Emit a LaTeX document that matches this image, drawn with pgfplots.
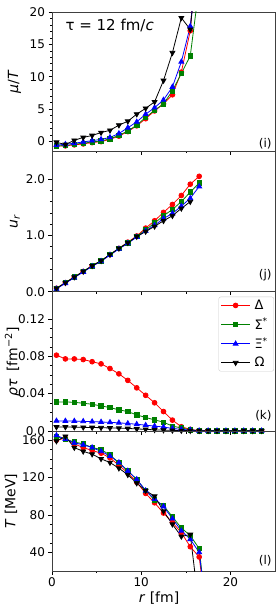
\documentclass[border=0pt]{standalone}
\usepackage{pgfplots}
\pgfplotsset{compat=1.18}
\usepackage{fontspec}
\setmainfont{DejaVu Sans}
\definecolor{mred}{HTML}{FF0000}
\definecolor{mgreen}{HTML}{008000}
\definecolor{mblue}{HTML}{0000FF}
\begin{document}
\begin{tikzpicture}
\useasboundingbox (-52pt,-457pt) rectangle (225pt,151pt);
\pgfplotsset{
  panel/.style={
    scale only axis, width=223pt,
    xmin=0, xmax=25,
    xtick={0,10,20}, minor xtick={5,15},
    tick align=outside, xtick pos=lower, ytick pos=left,
    major tick length=3.5pt, minor tick length=2pt,
    /pgf/number format/assume math mode=true,
    tick label style={font=\fontsize{12}{14}\selectfont},
    label style={font=\fontsize{14}{16}\selectfont},
    axis line style={line width=0.6pt, black!75},
    every tick/.style={black, line width=0.5pt},
    anchor=south west,
  },
  sred/.style={color=mred, line width=0.8pt, mark=*, mark size=2.4pt, mark options={solid, fill=mred}},
  sgreen/.style={color=mgreen, line width=0.8pt, mark=square*, mark size=2.2pt, mark options={solid, fill=mgreen}},
  sblue/.style={color=mblue, line width=0.8pt, mark=triangle*, mark size=2.8pt, mark options={solid, fill=mblue}},
  sblack/.style={color=black, line width=0.8pt, mark=triangle*, mark size=2.8pt, mark options={solid, fill=black, rotate=180}},
}
% ---------- (i)
\begin{axis}[panel, at={(0pt,0pt)}, height=139pt,
  ymin=-1.5, ymax=20, ytick={0,5,10,15,20}, minor y tick num=4,
  xticklabels={},
  ylabel={\textit{μ}/\textit{T}},
  ylabel style={at={(axis description cs:-0.168,0.5)}, anchor=center},
]
\addplot[sred] coordinates {(0.5,-0.75)(1.5,-0.7)(2.5,-0.55)(3.5,-0.4)(4.5,-0.2)(5.5,-0.05)(6.5,0.3)(7.5,0.8)(8.5,1.5)(9.5,2.4)(10.5,3.5)(11.5,4.7)(12.5,5.8)(13.5,7.2)(14.5,10.7)(15.5,17.1)(16.5,35)};
\addplot[sgreen] coordinates {(0.5,-0.7)(1.5,-0.65)(2.5,-0.45)(3.5,-0.3)(4.5,-0.1)(5.5,0.05)(6.5,0.4)(7.5,0.9)(8.5,1.6)(9.5,2.5)(10.5,3.7)(11.5,4.8)(12.5,5.8)(13.5,7.8)(14.5,10.5)(15.5,13.2)(16.5,24)};
\addplot[sblue] coordinates {(0.5,-0.6)(1.5,-0.45)(2.5,-0.3)(3.5,-0.1)(4.5,0.1)(5.5,0.3)(6.5,0.6)(7.5,1.2)(8.5,2.1)(9.5,3.0)(10.5,4.2)(11.5,5.2)(12.5,6.4)(13.5,8.4)(14.5,12.3)(15.5,17.8)(16.5,30)};
\addplot[sblack] coordinates {(0.5,-0.15)(1.5,-0.5)(2.5,0.15)(3.5,0.6)(4.5,0.9)(5.5,1.35)(6.5,1.7)(7.5,2.5)(8.5,3.1)(9.5,4.2)(10.5,5.1)(11.5,6.1)(12.5,9.4)(13.5,13.7)(14.5,19.1)(15.5,17.3)(16.5,31)};
\node[anchor=base west, font=\fontsize{15}{17}\selectfont] at (rel axis cs:0.045,0.87) {τ = 12 fm/\textit{c}};
\node[anchor=south east, font=\fontsize{12}{14}\selectfont, inner sep=1pt] at (rel axis cs:0.99,0.005) {(i)};
\end{axis}
% ---------- (j)
\begin{axis}[panel, at={(0pt,-140.7pt)}, height=140.7pt,
  ymin=0, ymax=2.5, ytick={0,1,2}, minor y tick num=4,
  yticklabels={0.0,1.0,2.0},
  xticklabels={},
  ylabel={\textit{u}\textsubscript{\textit{r}}},
  ylabel style={at={(axis description cs:-0.166,0.5)}, anchor=center},
]
\addplot[sred] coordinates {(0.5,0.06)(1.5,0.16)(2.5,0.26)(3.5,0.36)(4.5,0.46)(5.5,0.55)(6.5,0.66)(7.5,0.77)(8.5,0.88)(9.5,0.99)(10.5,1.13)(11.5,1.26)(12.5,1.41)(13.5,1.55)(14.5,1.71)(15.5,1.91)(16.5,2.05)};
\addplot[sgreen] coordinates {(0.5,0.06)(1.5,0.16)(2.5,0.26)(3.5,0.36)(4.5,0.46)(5.5,0.55)(6.5,0.66)(7.5,0.77)(8.5,0.87)(9.5,0.98)(10.5,1.10)(11.5,1.22)(12.5,1.35)(13.5,1.46)(14.5,1.60)(15.5,1.77)(16.5,1.93)};
\addplot[sblue] coordinates {(0.5,0.05)(1.5,0.15)(2.5,0.25)(3.5,0.35)(4.5,0.45)(5.5,0.54)(6.5,0.65)(7.5,0.76)(8.5,0.86)(9.5,0.97)(10.5,1.08)(11.5,1.18)(12.5,1.30)(13.5,1.39)(14.5,1.52)(15.5,1.66)(16.5,1.87)};
\addplot[sblack] coordinates {(0.5,0.06)(1.5,0.16)(2.5,0.26)(3.5,0.36)(4.5,0.46)(5.5,0.55)(6.5,0.66)(7.5,0.77)(8.5,0.87)(9.5,0.98)(10.5,1.07)(11.5,1.16)(12.5,1.26)(13.5,1.35)(14.5,1.48)(15.5,1.60)};
\node[anchor=south east, font=\fontsize{12}{14}\selectfont, inner sep=1pt] at (rel axis cs:0.99,0.065) {(j)};
\end{axis}
% ---------- (k)
\begin{axis}[panel, at={(0pt,-280.7pt)}, height=140pt,
  ymin=-0.001, ymax=0.149, ytick={0,0.04,0.08,0.12}, minor y tick num=3,
  yticklabels={0.0,0.04,0.08,0.12},
  xticklabels={},
  ylabel={\textit{ρτ}\enspace[fm\textsuperscript{−2}]},
  ylabel style={at={(axis description cs:-0.177,0.5)}, anchor=center},
  legend cell align=left,
  legend image code/.code={\draw[mark repeat=2, mark phase=2, #1] plot coordinates {(0pt,0pt) (14.5pt,0pt) (29pt,0pt)};},
  legend style={at={(axis description cs:0.9955,0.964)}, anchor=north east,
    draw=black!20, rounded corners=2pt, fill=white,
    font=\fontsize{13}{15}\selectfont, inner xsep=2pt, inner ysep=1pt, row sep=3pt,
    nodes={inner xsep=4pt}},
]
\addplot[sred] coordinates {(0.5,0.081)(1.5,0.077)(2.5,0.077)(3.5,0.0763)(4.5,0.074)(5.5,0.0717)(6.5,0.0667)(7.5,0.061)(8.5,0.054)(9.5,0.046)(10.5,0.038)(11.5,0.030)(12.5,0.0206)(13.5,0.0114)(14.5,0.0043)(15.5,0.0015)(16.5,0)(17.5,0)(18.5,0)(19.5,0)(20.5,0)(21.5,0)(22.5,0)(23.5,0)};
\addlegendentry{Δ}
\addplot[sgreen] coordinates {(0.5,0.0309)(1.5,0.0309)(2.5,0.0305)(3.5,0.0295)(4.5,0.0284)(5.5,0.0266)(6.5,0.0249)(7.5,0.0224)(8.5,0.0206)(9.5,0.017)(10.5,0.0142)(11.5,0.0117)(12.5,0.0092)(13.5,0.005)(14.5,0.003)(15.5,0.001)(16.5,0)(17.5,0)(18.5,0)(19.5,0)(20.5,0)(21.5,0)(22.5,0)(23.5,0)};
\addlegendentry{Σ\textsuperscript{*}}
\addplot[sblue] coordinates {(0.5,0.0106)(1.5,0.0105)(2.5,0.0104)(3.5,0.0101)(4.5,0.0098)(5.5,0.0094)(6.5,0.009)(7.5,0.0085)(8.5,0.0078)(9.5,0.007)(10.5,0.006)(11.5,0.005)(12.5,0.004)(13.5,0.0025)(14.5,0.0015)(15.5,0.0008)(16.5,0)(17.5,0)(18.5,0)(19.5,0)(20.5,0)(21.5,0)(22.5,0)(23.5,0)};
\addlegendentry{Ξ\textsuperscript{*}}
\addplot[sblack] coordinates {(0.5,0.004)(1.5,0.004)(2.5,0.0039)(3.5,0.0037)(4.5,0.0035)(5.5,0.0033)(6.5,0.003)(7.5,0.0028)(8.5,0.0025)(9.5,0.002)(10.5,0.0015)(11.5,0.001)(12.5,0.0007)(13.5,0.0004)(14.5,0.0002)(15.5,0.0001)(16.5,0)(17.5,0)(18.5,0)(19.5,0)(20.5,0)(21.5,0)(22.5,0)(23.5,0)};
\addlegendentry{Ω}
\node[anchor=south east, font=\fontsize{12}{14}\selectfont, inner sep=1pt] at (rel axis cs:0.99,0.065) {(k)};
\end{axis}
% ---------- (l)
\begin{axis}[panel, at={(0pt,-420pt)}, height=139.3pt,
  ymin=20, ymax=169, ytick={40,80,120,160}, minor y tick num=3,
  xticklabels={0,10,20},
  xlabel={\textit{r} [fm]},
  xlabel style={at={(axis description cs:0.48,-0.195)}, anchor=center},
  ylabel={\textit{T} [MeV]},
  ylabel style={at={(axis description cs:-0.184,0.5)}, anchor=center},
]
\addplot[sred] coordinates {(0.5,160)(1.5,162)(2.5,156)(3.5,152)(4.5,149)(5.5,146)(6.5,141)(7.5,133)(8.5,125)(9.5,115)(10.5,103)(11.5,93)(12.5,82)(13.5,72)(14.5,61)(15.5,46)(16.5,35)(17.5,-40)};
\addplot[sgreen] coordinates {(0.5,163.5)(1.5,161)(2.5,158)(3.5,156)(4.5,152)(5.5,150)(6.5,144)(7.5,136)(8.5,127)(9.5,118)(10.5,106)(11.5,96)(12.5,90)(13.5,78)(14.5,66)(15.5,58)(16.5,44)(17.5,-40)};
\addplot[sblue] coordinates {(0.5,165)(1.5,161)(2.5,157)(3.5,155)(4.5,152)(5.5,148)(6.5,143)(7.5,136)(8.5,127)(9.5,118)(10.5,106)(11.5,97)(12.5,89)(13.5,76)(14.5,63)(15.5,54)(16.5,40)(17.5,-40)};
\addplot[sblack] coordinates {(0.5,159)(1.5,164)(2.5,152)(3.5,148)(4.5,145)(5.5,140)(6.5,136)(7.5,130)(8.5,123)(9.5,114)(10.5,106)(11.5,100)(12.5,84)(13.5,70)(14.5,57)(15.5,59)(16.5,-20)};
\node[anchor=south east, font=\fontsize{12}{14}\selectfont, inner sep=1pt] at (rel axis cs:0.99,0.025) {(l)};
\end{axis}
\end{tikzpicture}
\end{document}
